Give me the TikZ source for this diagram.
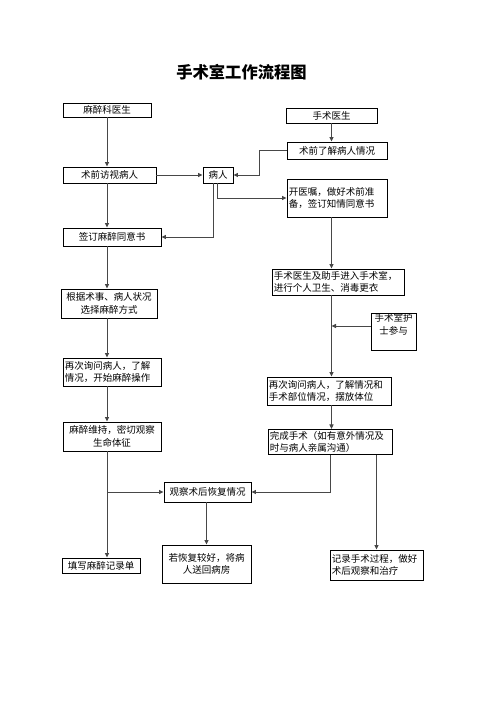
\documentclass[tikz,border=0pt]{standalone}
\usepackage{fontspec}
\newfontfamily\cjk{Noto Sans CJK SC}
\usetikzlibrary{arrows.meta}
\begin{document}
\begin{tikzpicture}[x=1pt,y=-1pt,
  box/.style={draw=black, line width=0.9pt, inner sep=1.8pt, font=\cjk\fontsize{9.5}{12.5}\selectfont},
  lbox/.style={box, align=left},
  cbox/.style={box, align=center},
  conn/.style={draw=black!72, line width=0.9pt},
  arr/.style={conn, -{Triangle[length=4.5pt,width=4pt]}},
  ttl/.style={font=\cjk\bfseries\fontsize{16.3}{18}\selectfont}
]
\useasboundingbox (0,0) rectangle (496,702);

\node[ttl] (title) at (241.5,72) {手术室工作流程图};

% left column
\node[cbox, minimum width=88pt, minimum height=14pt] (anes) at (107,110) {麻醉科医生};
\node[cbox, minimum width=93pt, minimum height=16pt] (visit) at (109.5,175) {术前访视病人};
\node[cbox, minimum width=30pt, minimum height=16pt] (patient) at (218,175) {病人};
\node[cbox, minimum width=98pt, minimum height=18pt] (sign) at (112,237) {签订麻醉同意书};
\node[cbox, minimum width=96pt, minimum height=29pt] (choose) at (109,303.5) {根据术事、病人状况\\选择麻醉方式};
\node[lbox, minimum width=98pt, minimum height=28pt, text width=94.4pt] (askA) at (112,372) {再次询问病人，了解\\情况，开始麻醉操作};
\node[cbox, minimum width=98pt, minimum height=29pt] (maint) at (112,436.5) {麻醉维持，密切观察\\生命体征};
\node[cbox, minimum width=78pt, minimum height=15pt] (record) at (101,565.5) {填写麻醉记录单};
\node[cbox, minimum width=87pt, minimum height=20pt] (observe) at (207.5,492) {观察术后恢复情况};
\node[cbox, minimum width=89pt, minimum height=38pt] (back) at (206.5,564) {若恢复较好，将病\\人送回病房};

% right column
\node[cbox, minimum width=91pt, minimum height=15pt] (surgeon) at (331.5,115.5) {手术医生};
\node[cbox, minimum width=100pt, minimum height=17pt] (preop) at (337,150.5) {术前了解病人情况};
\node[lbox, minimum width=100pt, minimum height=38pt, text width=96.4pt] (orders) at (337,198) {开医嘱，做好术前准\\备，签订知情同意书};
\node[lbox, minimum width=132pt, minimum height=26pt, text width=128.4pt] (enter) at (338,282) {手术医生及助手进入手术室，\\进行个人卫生、消毒更衣};
\node[box, minimum width=45pt, minimum height=37pt,
      label={[anchor=north, inner sep=1pt, align=center, font=\cjk\fontsize{9.5}{12.5}\selectfont]north:{手术室护\\士参与}}] (nurse) at (393.5,331.5) {};
\node[lbox, minimum width=124pt, minimum height=28pt, text width=120.4pt] (askB) at (329,391) {再次询问病人，了解情况和\\手术部位情况，摆放体位};
\node[lbox, minimum width=124pt, minimum height=24pt, text width=120.4pt] (done) at (330,442) {完成手术（如有意外情况及\\时与病人亲属沟通）};
\node[lbox, minimum width=93pt, minimum height=30pt, text width=89.4pt] (log) at (376.5,565) {记录手术过程，做好\\术后观察和治疗};

% column guide coordinates
\coordinate (L) at (107,0);
\coordinate (R) at (331.5,0);
\coordinate (nw) at ([yshift=5.5pt]nurse.west);

% left chain
\draw[arr] (L |- anes.south) -- (L |- visit.north);
\draw[arr] (L |- visit.south) -- (L |- sign.north);
\draw[arr] (L |- sign.south) -- (L |- choose.north);
\draw[arr] (L |- choose.south) -- (L |- askA.north);
\draw[arr] (L |- askA.south) -- (L |- maint.north);
\draw[arr] (L |- maint.south) -- (L |- record.north);
\draw[arr] (L |- observe.west) -- (observe.west);

% patient links
\draw[arr] (visit.east) -- (patient.west);
\draw[arr] (preop.west) -- ++(-27,0) |- (patient.east);
\draw[arr] ([xshift=-4.7pt]patient.south) |- (sign.east);
\draw[arr] ([xshift=-0.3pt]patient.south) |- (orders.west);

% right chain
\draw[arr] (R |- surgeon.south) -- (R |- preop.north);
\draw[arr] (R |- orders.south) -- (R |- enter.north);
\draw[arr] (R |- enter.south) -- (R |- askB.north);
\draw[arr] (nw) -- (R |- nw);
\draw[arr] (R |- askB.south) -- (R |- done.north);
\draw[arr] (done.south) |- (observe.east);
\draw[arr] (log.north |- done.south) -- (log.north);
\draw[arr] (back.north |- observe.south) -- (back.north);
\end{tikzpicture}
\end{document}
